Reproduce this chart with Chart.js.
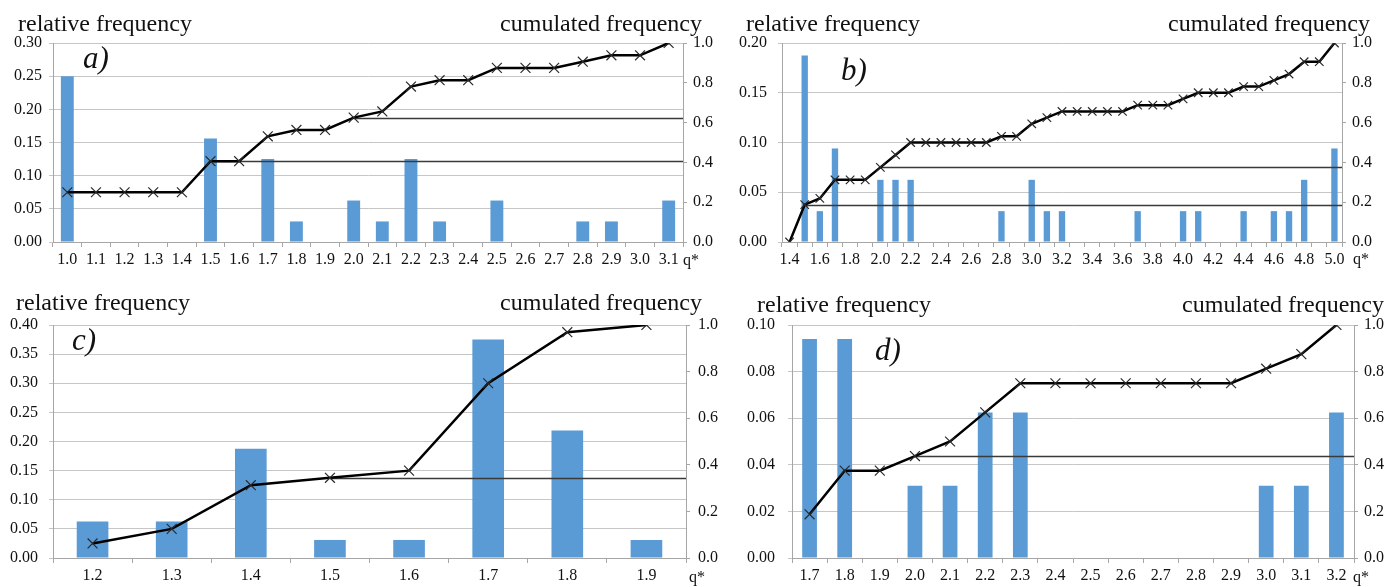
<!DOCTYPE html>
<html>
<head>
<meta charset="utf-8">
<script src="https://cdn.jsdelivr.net/npm/chart.js@4.4.1/dist/chart.umd.min.js"></script>
<style>
  html, body { margin: 0; padding: 0; background: #fff; }
  #fig { position: relative; width: 1400px; height: 587px; overflow: hidden;
         font-family: 'Liberation Serif', 'Times New Roman', serif; color: #111; }
  .panel { position: absolute; }
  .txt { position: absolute; white-space: nowrap; line-height: 1; }
  .ttl { font-size: 24px; }
  .lab { font-size: 31px; font-style: italic; }
  .q { font-size: 16px; }
</style>
</head>
<body>
<div id="fig">
  <div class="panel" style="left:0;top:0"><canvas id="chartA" width="720" height="280"></canvas></div>
  <div class="panel" style="left:720px;top:0"><canvas id="chartB" width="680" height="280"></canvas></div>
  <div class="panel" style="left:0;top:290px"><canvas id="chartC" width="720" height="297"></canvas></div>
  <div class="panel" style="left:720px;top:290px"><canvas id="chartD" width="680" height="297"></canvas></div>

  <div class="txt ttl" style="left:18px;top:11px">relative frequency</div>
  <div class="txt ttl" style="right:698px;top:11px">cumulated frequency</div>
  <div class="txt lab" style="left:83px;top:42px">a)</div>
  <div class="txt q" style="left:683px;top:252px">q*</div>

  <div class="txt ttl" style="left:746px;top:11px">relative frequency</div>
  <div class="txt ttl" style="right:30px;top:11px">cumulated frequency</div>
  <div class="txt lab" style="left:841px;top:54px">b)</div>
  <div class="txt q" style="left:1353px;top:251px">q*</div>

  <div class="txt ttl" style="left:16px;top:290px">relative frequency</div>
  <div class="txt ttl" style="right:698px;top:290px">cumulated frequency</div>
  <div class="txt lab" style="left:72px;top:324px">c)</div>
  <div class="txt q" style="left:689px;top:569px">q*</div>

  <div class="txt ttl" style="left:757px;top:292px">relative frequency</div>
  <div class="txt ttl" style="right:16px;top:292px">cumulated frequency</div>
  <div class="txt lab" style="left:875px;top:334px">d)</div>
  <div class="txt q" style="left:1353px;top:569px">q*</div>
</div>
<script>
// panel a)
const catsA = ['1.0','1.1','1.2','1.3','1.4','1.5','1.6','1.7','1.8','1.9','2.0','2.1','2.2','2.3','2.4','2.5','2.6','2.7','2.8','2.9','3.0','3.1'];
const relA = [0.25,0,0,0,0,0.156,0,0.125,0.031,0,0.0625,0.031,0.125,0.031,0,0.0625,0,0,0.031,0.031,0,0.0625];
const cumA = [0.25,0.25,0.25,0.25,0.25,0.406,0.406,0.531,0.563,0.563,0.625,0.656,0.781,0.813,0.813,0.875,0.875,0.875,0.906,0.938,0.938,1.0];
const refA = [['1.5', 0.406], ['2.0', 0.625]];

// panel b)
const catsB = ['1.4','1.5','1.6','1.7','1.8','1.9','2.0','2.1','2.2','2.3','2.4','2.5','2.6','2.7','2.8','2.9','3.0','3.1','3.2','3.3','3.4','3.5','3.6','3.7','3.8','3.9','4.0','4.1','4.2','4.3','4.4','4.5','4.6','4.7','4.8','4.9','5.0'];
const relB = [0,0.1875,0.031,0.094,0,0,0.0625,0.0625,0.0625,0,0,0,0,0,0.031,0,0.0625,0.031,0.031,0,0,0,0,0.031,0,0,0.031,0.031,0,0,0.031,0,0.031,0.031,0.0625,0,0.094];
const cumB = [0,0.1875,0.219,0.3125,0.3125,0.3125,0.375,0.4375,0.5,0.5,0.5,0.5,0.5,0.5,0.531,0.531,0.594,0.625,0.656,0.656,0.656,0.656,0.656,0.6875,0.6875,0.6875,0.719,0.75,0.75,0.75,0.781,0.781,0.8125,0.844,0.906,0.906,1.0];
const refB = [['1.5', 0.1875], ['2.0', 0.375]];

// panel c)
const catsC = ['1.2','1.3','1.4','1.5','1.6','1.7','1.8','1.9'];
const relC = [0.0625,0.0625,0.1875,0.031,0.031,0.375,0.219,0.031];
const cumC = [0.0625,0.125,0.3125,0.344,0.375,0.75,0.969,1.0];
const refC = [['1.5', 0.344]];

// panel d)
const catsD = ['1.7','1.8','1.9','2.0','2.1','2.2','2.3','2.4','2.5','2.6','2.7','2.8','2.9','3.0','3.1','3.2'];
const relD = [0.094,0.094,0,0.031,0.031,0.0625,0.0625,0,0,0,0,0,0,0.031,0.031,0.0625];
const cumD = [0.1875,0.375,0.375,0.4375,0.5,0.625,0.75,0.75,0.75,0.75,0.75,0.75,0.75,0.8125,0.875,1.0];
const refD = [['2.0', 0.4375]];

const FONT = "'Liberation Serif', 'Times New Roman', serif";
const AXIS = '#a6a6a6';

// horizontal reference lines from a cumulated point to the right edge
const refPlugin = {
    id: 'refLines',
    afterDatasetDraw(chart, args, opts) {
        if (args.meta.type !== 'bar') return;
        const x = chart.scales.x, y1 = chart.scales.y1, ctx = chart.ctx;
        ctx.save();
        ctx.strokeStyle = '#3a3a3a';
        ctx.lineWidth = 1.5;
        (opts.lines || []).forEach(([cat, v]) => {
            const x0 = x.getPixelForValue(x.getLabels().indexOf(cat));
            const py = Math.round(y1.getPixelForValue(v)) + 0.5;
            ctx.beginPath();
            ctx.moveTo(x0, py);
            ctx.lineTo(chart.chartArea.right, py);
            ctx.stroke();
        });
        ctx.restore();
    }
};

function makePanel(id, cats, rel, cum, refs, yMax, yStep, g) {
    new Chart(document.getElementById(id), {
        type: 'bar',
        data: {
            labels: cats,
            datasets: [
                {
                    type: 'line', data: cum, yAxisID: 'y1', order: 0,
                    borderColor: '#000', borderWidth: 2.5, tension: 0,
                    pointStyle: 'crossRot', pointRadius: g.pr,
                    pointBorderColor: '#2a2a2a', pointBorderWidth: 1.2,
                    pointBackgroundColor: 'transparent'
                },
                {
                    type: 'bar', data: rel, yAxisID: 'y', order: 1,
                    backgroundColor: '#5b9bd5',
                    barPercentage: g.bp, categoryPercentage: 1
                }
            ]
        },
        options: {
            responsive: false,
            animation: false,
            layout: { padding: { top: g.top, left: 0, right: 0, bottom: 0 } },
            plugins: {
                legend: { display: false },
                tooltip: { enabled: false },
                refLines: { lines: refs }
            },
            scales: {
                x: {
                    grid: { drawOnChartArea: false, tickLength: 5, color: AXIS },
                    border: { color: AXIS },
                    ticks: {
                        autoSkip: false, maxRotation: 0, color: '#111', padding: 3,
                        font: { family: FONT, size: 16 },
                        callback: (v, i) => (i % g.every === 0 ? cats[i] : '')
                    },
                    afterFit: s => { s.height = g.xh; }
                },
                y: {
                    min: 0, max: yMax,
                    grid: { color: '#c6c6c6', tickLength: 4 },
                    border: { color: AXIS },
                    ticks: {
                        stepSize: yStep, color: '#111', padding: g.ypad,
                        font: { family: FONT, size: 16 },
                        callback: v => v.toFixed(2)
                    },
                    afterFit: s => { s.width = g.yw; }
                },
                y1: {
                    position: 'right', min: 0, max: 1,
                    grid: { drawOnChartArea: false, tickLength: 4, color: AXIS },
                    border: { color: AXIS },
                    ticks: {
                        stepSize: 0.2, color: '#111', padding: g.y1pad,
                        font: { family: FONT, size: 16 },
                        callback: v => v.toFixed(1)
                    },
                    afterFit: s => { s.width = g.y1w; }
                }
            }
        },
        plugins: [refPlugin]
    });
}

makePanel('chartA', catsA, relA, cumA, refA, 0.30, 0.05,
    { top: 43, xh: 38, yw: 53, y1w: 37, ypad: 7, y1pad: 6, bp: 0.45, pr: 7, every: 1 });
makePanel('chartB', catsB, relB, cumB, refB, 0.20, 0.05,
    { top: 43, xh: 38, yw: 62, y1w: 58, ypad: 11, y1pad: 6, bp: 0.42, pr: 6, every: 2 });
makePanel('chartC', catsC, relC, cumC, refC, 0.40, 0.05,
    { top: 35, xh: 29, yw: 53, y1w: 34, ypad: 11, y1pad: 8, bp: 0.4, pr: 7, every: 1 });
makePanel('chartD', catsD, relD, cumD, refD, 0.10, 0.02,
    { top: 35, xh: 29, yw: 72, y1w: 46, ypad: 13, y1pad: 6, bp: 0.42, pr: 7, every: 1 });
</script>
</body>
</html>
